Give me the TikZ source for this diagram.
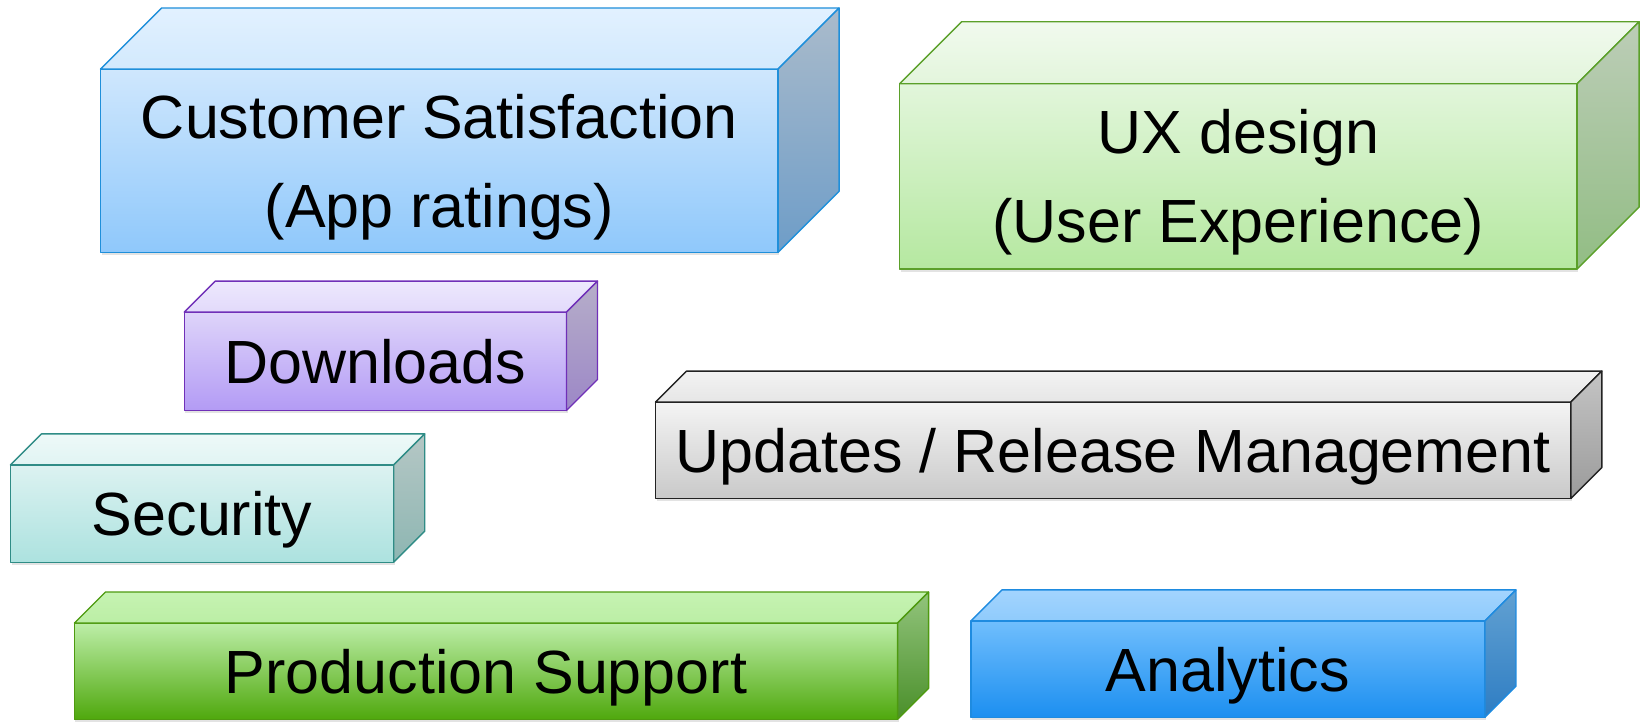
\documentclass[tikz,border=0pt]{standalone}
\usepackage{fontspec}
\setmainfont{Liberation Sans}
\usetikzlibrary{shadows}

% Line and fill colours of the seven blocks
\definecolor{csLine}{HTML}{1F8FDA}
\definecolor{csFrontA}{HTML}{CFE7FD}
\definecolor{csFrontB}{HTML}{8FC8FB}
\definecolor{csTopA}{HTML}{E2F1FF}
\definecolor{csTopB}{HTML}{D2E9FD}
\definecolor{csSideA}{HTML}{AABBCB}
\definecolor{csSideB}{HTML}{6E9DC8}

\definecolor{uxLine}{HTML}{5BA02A}
\definecolor{uxFrontA}{HTML}{E2F6DB}
\definecolor{uxFrontB}{HTML}{B5E8A0}
\definecolor{uxTopA}{HTML}{F1FAEE}
\definecolor{uxTopB}{HTML}{E3F5DC}
\definecolor{uxSideA}{HTML}{BCCDB7}
\definecolor{uxSideB}{HTML}{92BD84}

\definecolor{dlLine}{HTML}{7030B8}
\definecolor{dlFrontA}{HTML}{DED4FA}
\definecolor{dlFrontB}{HTML}{B39BF5}
\definecolor{dlTopA}{HTML}{EDE8FD}
\definecolor{dlTopB}{HTML}{E2DAFB}
\definecolor{dlSideA}{HTML}{B6AEC9}
\definecolor{dlSideB}{HTML}{9C87C7}

\definecolor{seLine}{HTML}{2F8C86}
\definecolor{seFrontA}{HTML}{DCF2F1}
\definecolor{seFrontB}{HTML}{ACE2DF}
\definecolor{seTopA}{HTML}{EEF9F8}
\definecolor{seTopB}{HTML}{E0F4F3}
\definecolor{seSideA}{HTML}{B5C7C5}
\definecolor{seSideB}{HTML}{8DB6B2}

\definecolor{upLine}{HTML}{222222}
\definecolor{upFrontA}{HTML}{F4F4F4}
\definecolor{upFrontB}{HTML}{C9C9C9}
\definecolor{upTopA}{HTML}{F3F3F3}
\definecolor{upTopB}{HTML}{E6E6E6}
\definecolor{upSideA}{HTML}{C4C4C4}
\definecolor{upSideB}{HTML}{9B9B9B}

\definecolor{psLine}{HTML}{4E9A10}
\definecolor{psFrontA}{HTML}{BDEEA8}
\definecolor{psFrontB}{HTML}{4FA80D}
\definecolor{psTopA}{HTML}{C6F3B2}
\definecolor{psTopB}{HTML}{BBEEA5}
\definecolor{psSideA}{HTML}{92C47C}
\definecolor{psSideB}{HTML}{4A8F2A}

\definecolor{anLine}{HTML}{1E8BE0}
\definecolor{anFrontA}{HTML}{70BEFD}
\definecolor{anFrontB}{HTML}{1C8FF0}
\definecolor{anTopA}{HTML}{A3D4FE}
\definecolor{anTopB}{HTML}{8FCBFC}
\definecolor{anSideA}{HTML}{62A1D2}
\definecolor{anSideB}{HTML}{2E7DC3}

\tikzset{
  front/.style n args={3}{draw=#1, top color=#2, bottom color=#3,
    line width=1.4pt, line join=round, inner sep=0pt, outer sep=0pt,
    align=center, text depth=0pt, font=\fontsize{61}{89}\selectfont,
    drop shadow={opacity=0.22, shadow xshift=1pt, shadow yshift=-3pt}},
  face/.style n args={3}{draw=#1, top color=#2, bottom color=#3,
    line width=1.4pt, line join=round},
}

% Top and right faces of a block whose front face is node #1; #2 is the depth
\newcommand\cuboidfaces[7]{%
  \path[face={#3}{#4}{#5}] (#1.north west) -- ([shift={(#2,#2)}]#1.north west)
    -- ([shift={(#2,#2)}]#1.north east) -- (#1.north east) -- cycle;
  \path[face={#3}{#6}{#7}] (#1.north east) -- ([shift={(#2,#2)}]#1.north east)
    -- ([shift={(#2,#2)}]#1.south east) -- (#1.south east) -- cycle;
}

\begin{document}
\begin{tikzpicture}[x=1pt, y=1pt]
\useasboundingbox (0,0) rectangle (1642,723);

\node[front={csLine}{csFrontA}{csFrontB}, minimum width=677.5pt, minimum height=183.4pt]
  (cs) at (439.3,562.3) {Customer Satisfaction\\(App ratings)};
\cuboidfaces{cs}{61}{csLine}{csTopA}{csTopB}{csSideA}{csSideB}

\node[front={uxLine}{uxFrontA}{uxFrontB}, minimum width=677.5pt, minimum height=185.3pt]
  (ux) at (1238.4,546.6) {UX design\\(User Experience)};
\cuboidfaces{ux}{62}{uxLine}{uxTopA}{uxTopB}{uxSideA}{uxSideB}

\node[front={dlLine}{dlFrontA}{dlFrontB}, minimum width=382.2pt, minimum height=98.4pt]
  (dl) at (375.4,361.7) {Downloads};
\cuboidfaces{dl}{31}{dlLine}{dlTopA}{dlTopB}{dlSideA}{dlSideB}

\node[front={seLine}{seFrontA}{seFrontB}, minimum width=383.2pt, minimum height=97.3pt]
  (se) at (202.1,209.4) {Security};
\cuboidfaces{se}{31}{seLine}{seTopA}{seTopB}{seSideA}{seSideB}

\node[front={upLine}{upFrontA}{upFrontB}, minimum width=915.3pt, minimum height=96.4pt]
  (up) at (1113.2,272.7) {Updates / Release Management};
\cuboidfaces{up}{31}{upLine}{upTopA}{upTopB}{upSideA}{upSideB}

\node[front={psLine}{psFrontA}{psFrontB}, minimum width=823.1pt, minimum height=96.3pt]
  (ps) at (486.0,51.8) {Production Support};
\cuboidfaces{ps}{31}{psLine}{psTopA}{psTopB}{psSideA}{psSideB}

\node[front={anLine}{anFrontA}{anFrontB}, minimum width=514.1pt, minimum height=96.3pt]
  (an) at (1227.9,53.9) {Analytics};
\cuboidfaces{an}{31}{anLine}{anTopA}{anTopB}{anSideA}{anSideB}
\end{tikzpicture}
\end{document}
